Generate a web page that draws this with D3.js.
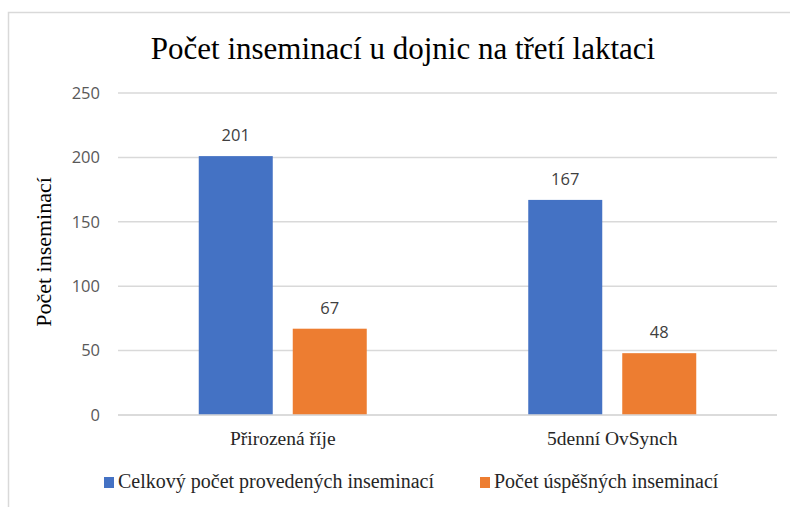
<!DOCTYPE html>
<html><head><meta charset="utf-8">
<script src="https://cdn.jsdelivr.net/npm/d3@7"></script>
<style>body{margin:0;background:#fff}svg{display:block}
.serif{font-family:"Liberation Serif","Times New Roman",Tinos,"DejaVu Serif",serif}
.sans{font-family:"Open Sans","Noto Sans",sans-serif}
</style>
</head><body><svg id="c" width="790" height="507"></svg>
<script>
const categories = ["Přirozená říje", "5denní OvSynch"];
const seriesNames = ["Celkový počet provedených inseminací", "Počet úspěšných inseminací"];
const totalValues = [201, 167];
const successValues = [67, 48];
const yTicks = [0, 50, 100, 150, 200, 250];
const colors = ["#4472C4", "#ED7D31"];
const title = "Počet inseminací u dojnic na třetí laktaci";
const yTitle = "Počet inseminací";

const svg = d3.select("#c");
svg.append("rect").attr("x", 8.5).attr("y", 12.5).attr("width", 800).attr("height", 520)
  .attr("fill", "#fff").attr("stroke", "#d9d9d9").attr("stroke-width", 1.5);

const pLeft = 118, pRight = 777, pTop = 93, pBottom = 415;
const x = d3.scaleBand().domain(categories).range([pLeft, pRight]);
const y = d3.scaleLinear().domain([0, 250]).range([pBottom, pTop]);
const series = [totalValues, successValues];
const barW = 74, gap = 20;

svg.append("g").selectAll("line").data(yTicks).join("line")
  .attr("x1", pLeft).attr("x2", pRight)
  .attr("y1", d => y(d)).attr("y2", d => y(d))
  .attr("stroke", "#d9d9d9").attr("stroke-width", 1.5);

const yAxis = svg.append("g").attr("transform", `translate(${pLeft - 18},0)`)
  .call(d3.axisLeft(y).tickValues(yTicks).tickSize(0).tickPadding(0));
yAxis.attr("font-family", null).attr("font-size", null);
yAxis.select(".domain").remove();
yAxis.selectAll("text").attr("class", "sans").attr("font-size", 16.5)
  .attr("fill", "#595959");

series.forEach((vals, si) => {
  const g = svg.append("g");
  const offset = si === 0 ? -(barW + gap) / 2 : (barW + gap) / 2;
  g.selectAll("rect").data(vals).join("rect")
    .attr("x", (d, i) => x(categories[i]) + x.bandwidth() / 2 + offset - barW / 2)
    .attr("y", d => y(d)).attr("width", barW).attr("height", d => pBottom - y(d))
    .attr("fill", colors[si]);
  g.selectAll("text").data(vals).join("text")
    .attr("x", (d, i) => x(categories[i]) + x.bandwidth() / 2 + offset)
    .attr("y", d => y(d) - 15)
    .attr("text-anchor", "middle")
    .attr("class", "sans").attr("font-size", 16.5)
    .attr("fill", "#404040").text(d => d);
});

svg.append("line").attr("x1", pLeft).attr("x2", pRight).attr("y1", pBottom).attr("y2", pBottom)
  .attr("stroke", "#d9d9d9").attr("stroke-width", 1.5);

const xAxis = svg.append("g").attr("transform", `translate(0,${pBottom})`)
  .call(d3.axisBottom(x).tickSize(0).tickPadding(0));
xAxis.attr("font-family", null).attr("font-size", null);
xAxis.select(".domain").remove();
xAxis.selectAll("text").attr("dy", null).attr("y", 30)
  .attr("class", "serif").attr("font-size", 19.5).attr("fill", "#262626");

svg.append("text").attr("x", 403).attr("y", 59).attr("text-anchor", "middle")
  .attr("class", "serif").attr("font-size", 31).attr("fill", "#000")
  .text(title);

svg.append("text").attr("transform", "translate(51,252) rotate(-90)").attr("text-anchor", "middle")
  .attr("class", "serif").attr("font-size", 22).attr("fill", "#000")
  .text(yTitle);

const legendX = [104, 480];
const lg = svg.append("g").selectAll("g").data(seriesNames).join("g")
  .attr("transform", (d, i) => `translate(${legendX[i]},477)`);
lg.append("rect").attr("width", 10).attr("height", 11).attr("fill", (d, i) => colors[i]);
lg.append("text").attr("x", 14).attr("y", 11).attr("class", "serif")
  .attr("font-size", 20).attr("fill", "#262626").text(d => d);
</script></body></html>
